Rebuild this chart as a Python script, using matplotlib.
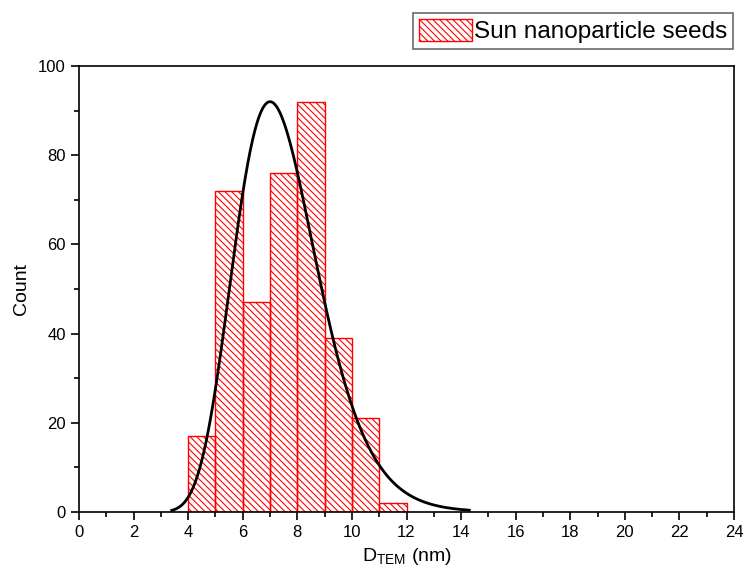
import numpy as np
import matplotlib
matplotlib.use("Agg")
import matplotlib.pyplot as plt
from matplotlib.ticker import MultipleLocator

plt.rcParams['font.family'] = ['Liberation Sans', 'DejaVu Sans']
plt.rcParams['hatch.color'] = 'red'
plt.rcParams['hatch.linewidth'] = 0.8

bin_left = [4, 5, 6, 7, 8, 9, 10, 11]
counts = [17, 72, 47, 76, 92, 39, 21, 2]
fit_mode = 7.0
fit_height = 92.0
fit_width = 0.217
fit_range = (3.4, 14.3)

fig = plt.figure(figsize=(7.46, 5.78), dpi=100)
ax = fig.add_axes([79/746, 1-512/578, (734-79)/746, (512-66)/578])

ax.bar(bin_left, counts, width=1.0, align='edge', facecolor='none',
       edgecolor='red', hatch='\\' * 5, linewidth=1.0, label='Sun nanoparticle seeds')

xs = np.linspace(fit_range[0], fit_range[1], 400)
ys = fit_height * np.exp(-(np.log(xs / fit_mode))**2 / (2 * fit_width**2))
ax.plot(xs, ys, color='black', lw=2)

ax.set_xlim(0, 24)
ax.set_ylim(0, 100)
ax.xaxis.set_major_locator(MultipleLocator(2))
ax.xaxis.set_minor_locator(MultipleLocator(1))
ax.yaxis.set_major_locator(MultipleLocator(20))
ax.yaxis.set_minor_locator(MultipleLocator(10))
ax.tick_params(which='major', direction='out', length=6, width=1.2, labelsize=12)
ax.tick_params(which='minor', direction='out', length=3.5, width=1.2)
for s in ax.spines.values():
    s.set_linewidth(1.2)
ax.set_xlabel(r'D$_{\mathregular{TEM}}$ (nm)', fontsize=14, labelpad=4)
ax.set_ylabel('Count', fontsize=14, labelpad=6)

leg = ax.legend(loc='upper right', bbox_to_anchor=(733/746, 1-13/578),
                bbox_transform=fig.transFigure, fontsize=17.5,
                frameon=True, fancybox=False, edgecolor='#444444',
                handlelength=2.2, handleheight=1.0, handletextpad=0.05,
                borderpad=0.25, borderaxespad=0.0)
leg.get_frame().set_linewidth(1.2)

fig.savefig('out.png', dpi=100)
